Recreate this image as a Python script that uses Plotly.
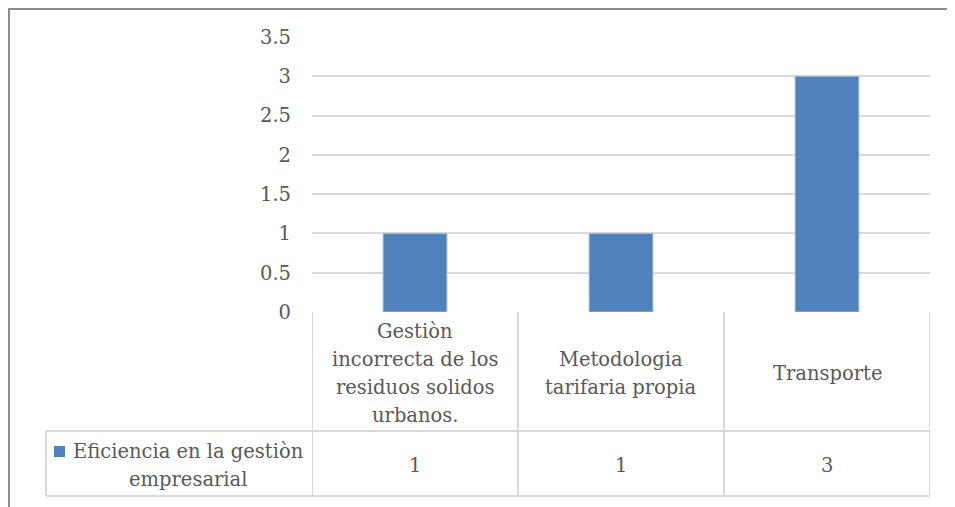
import plotly.graph_objects as go

# ---- data ----
categories = ["Gestiòn\nincorrecta de los\nresiduos solidos\nurbanos.",
              "Metodologia\ntarifaria propia",
              "Transporte"]
values = [1, 1, 3]
series_name = "Eficiencia en la gestiòn\nempresarial"
tick_vals = [0, 0.5, 1, 1.5, 2, 2.5, 3, 3.5]
tick_text = ["0", "0.5", "1", "1.5", "2", "2.5", "3", "3.5"]

OFF = 8  # page body margin
W, H = 955 - OFF, 507 - OFF
# plot area in screen pixels
SL, SR, ST, SB = 312, 930, 37, 312
L, R, T, B = SL - OFF, SR - OFF, ST - OFF, SB - OFF
FONT = "DejaVu Serif"
TXT = "#595959"
GRID = "#D9D9D9"
BAR = "#4F81BD"
FS = 19.5
DY = 2  # text vertical nudge


def px(x):  # screen x -> paper
    return (x - SL) / (SR - SL)


def py(y):  # screen y -> paper
    return (SB - y) / (SB - ST)


xs = list(range(len(categories)))

fig = go.Figure()
fig.add_trace(go.Bar(x=xs, y=values, marker=dict(color=BAR, line=dict(color="#A7BFDE", width=1)),
                     width=0.31, name=series_name.replace("\n", " "), showlegend=False))

shapes = []
ann = []
# table lines
row1, row2 = 431, 496
for i in range(len(categories) + 1):
    shapes.append(dict(type="line", xref="x", yref="paper", x0=i - 0.5, x1=i - 0.5,
                       y0=py(SB), y1=py(row2), line=dict(color=GRID, width=2)))
shapes.append(dict(type="line", xref="paper", yref="paper", x0=px(46), x1=px(46),
                   y0=py(row1), y1=py(row2), line=dict(color=GRID, width=2)))
for yy in (row1, row2):
    shapes.append(dict(type="line", xref="paper", yref="paper", x0=px(46), x1=1,
                       y0=py(yy), y1=py(yy), line=dict(color=GRID, width=2)))
# outer chart border (left and top)
shapes.append(dict(type="line", xref="paper", yref="paper", x0=px(9), x1=px(9),
                   y0=py(8), y1=py(520), line=dict(color="#8C8C8C", width=2)))
shapes.append(dict(type="line", xref="paper", yref="paper", x0=px(8), x1=px(960),
                   y0=py(9), y1=py(9), line=dict(color="#8C8C8C", width=2)))
# legend key
shapes.append(dict(type="rect", xref="paper", yref="paper", x0=px(54), x1=px(65),
                   y0=py(446), y1=py(457), fillcolor=BAR, line=dict(width=0)))

LH = 28
# category labels
for i, c in enumerate(categories):
    lines = c.split("\n")
    cy = (SB + row1) / 2 + DY
    start = cy - LH * (len(lines) - 1) / 2
    for k, ln in enumerate(lines):
        ann.append(dict(x=i, xref="x", y=py(start + k * LH), yref="paper", text=ln,
                        showarrow=False, xanchor="center", yanchor="middle",
                        font=dict(family=FONT, size=FS, color=TXT)))
# values row
for i, v in enumerate(values):
    ann.append(dict(x=i, xref="x", y=py((row1 + row2) / 2 + DY), yref="paper", text=str(v),
                    showarrow=False, xanchor="center", yanchor="middle",
                    font=dict(family=FONT, size=FS, color=TXT)))
# series name
lines = series_name.split("\n")
cy = (row1 + row2) / 2 + DY
start = cy - LH * (len(lines) - 1) / 2
for k, ln in enumerate(lines):
    ann.append(dict(x=px(188), xref="paper", y=py(start + k * LH), yref="paper", text=ln,
                    showarrow=False, xanchor="center", yanchor="middle",
                    font=dict(family=FONT, size=FS, color=TXT)))

fig.update_layout(
    width=W, height=H,
    margin=dict(l=L, r=W - R, t=T, b=H - B, pad=0),
    paper_bgcolor="white", plot_bgcolor="white",
    shapes=shapes, annotations=ann, showlegend=False,
    bargap=0.69,
    xaxis=dict(range=[-0.5, len(categories) - 0.5], showticklabels=False, showgrid=False,
               zeroline=False, showline=False, ticks=""),
    yaxis=dict(range=[0, 3.5], tickvals=tick_vals, ticktext=tick_text, showgrid=True,
               gridcolor=GRID, gridwidth=2, zeroline=False, showline=False, ticks="",
               ticklabelstandoff=20,
               tickfont=dict(family=FONT, size=FS, color=TXT)),
)

fig.write_html("out.html")
